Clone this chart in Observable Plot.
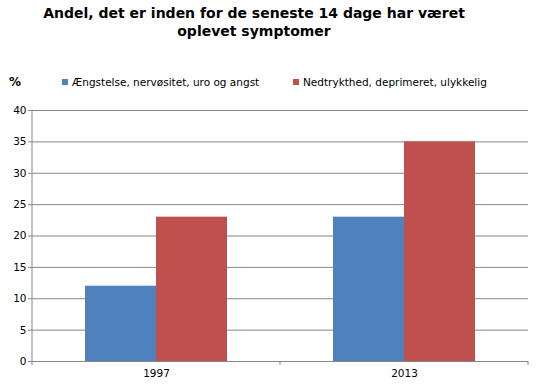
<!DOCTYPE html>
<html><head><meta charset="utf-8">
<script src="https://cdn.jsdelivr.net/npm/d3@7"></script>
<script src="https://cdn.jsdelivr.net/npm/@observablehq/plot@0.6"></script>
<style>
body{margin:0;background:#fff;font-family:"DejaVu Sans",Verdana,sans-serif;}
#wrap{position:relative;width:536px;height:387px;}
#title{position:absolute;left:0;top:4px;width:508px;text-align:center;font-weight:bold;font-size:14px;line-height:18px;color:#000;}
#unit{position:absolute;left:9px;top:75px;font-weight:bold;font-size:12px;}
.leg{position:absolute;top:76px;font-size:10.5px;color:#000;white-space:nowrap;}
.sw{display:inline-block;width:6px;height:6px;margin-right:4px;vertical-align:1px;}
#chart{position:absolute;left:0;top:100px;}
</style></head>
<body><div id="wrap">
<div id="title">Andel, det er inden for de seneste 14 dage har været<br>oplevet symptomer</div>
<div id="unit">%</div>
<div id="chart"></div>
</div>
<script>
const years = ["1997", "2013"];
const series = ["Ængstelse, nervøsitet, uro og angst", "Nedtrykthed, deprimeret, ulykkelig"];
const values1997 = [12, 23];
const values2013 = [23, 35];
const colors = ["#4F81BD", "#C0504D"];
const yTicks = [0, 5, 10, 15, 20, 25, 30, 35, 40];

const data = [];
[values1997, values2013].forEach((vals, i) => vals.forEach((v, j) => data.push({year: years[i], series: series[j], value: v})));

const legendLeft = [62, 293];
series.forEach((s, i) => {
  const d = document.createElement("div");
  d.className = "leg";
  d.style.left = legendLeft[i] + "px";
  d.innerHTML = `<span class="sw" style="background:${colors[i]}"></span>${s}`;
  document.getElementById("wrap").appendChild(d);
});

const plot = Plot.plot({
  width: 536, height: 287,
  marginLeft: 32, marginRight: 8, marginTop: 10, marginBottom: 26,
  style: {fontFamily: "DejaVu Sans, Verdana, sans-serif", fontSize: "10.5px", color: "#000", background: "#fff"},
  fx: {domain: years, padding: 0, label: null, axis: null},
  x: {domain: series, paddingInner: 0, paddingOuter: 0.746, axis: null},
  y: {domain: [0, 40], ticks: yTicks, label: null},
  color: {domain: series, range: colors},
  marks: [
    Plot.ruleY(yTicks.filter(t => t > 0), {stroke: "#868686", strokeOpacity: 1}),
    Plot.barY(data, {fx: "year", x: "series", y: "value", fill: "series"}),
    Plot.ruleY([0], {stroke: "#868686", strokeOpacity: 1}),
    Plot.axisY({ticks: yTicks, tickSize: 4, tickPadding: 2, stroke: "#868686", label: null}),
    Plot.axisFx({anchor: "bottom", tickSize: 0, tickPadding: 8, label: null})
  ]
});
document.getElementById("chart").appendChild(plot);

// left axis line and bottom boundary ticks, positioned via the plot's scales
const svg = d3.select(plot);
const fx = plot.scale("fx"), y = plot.scale("y");
const bw = fx.bandwidth;
const x0 = fx.apply(years[0]);
svg.append("line").attr("x1", x0).attr("x2", x0).attr("y1", y.apply(40)).attr("y2", y.apply(0)).attr("stroke", "#868686");
const bounds = years.map(d => fx.apply(d)).concat([fx.apply(years[years.length - 1]) + bw]);
bounds.forEach(b => svg.append("line").attr("x1", b).attr("x2", b).attr("y1", y.apply(0)).attr("y2", y.apply(0) + 4).attr("stroke", "#868686"));
</script>
</body></html>
